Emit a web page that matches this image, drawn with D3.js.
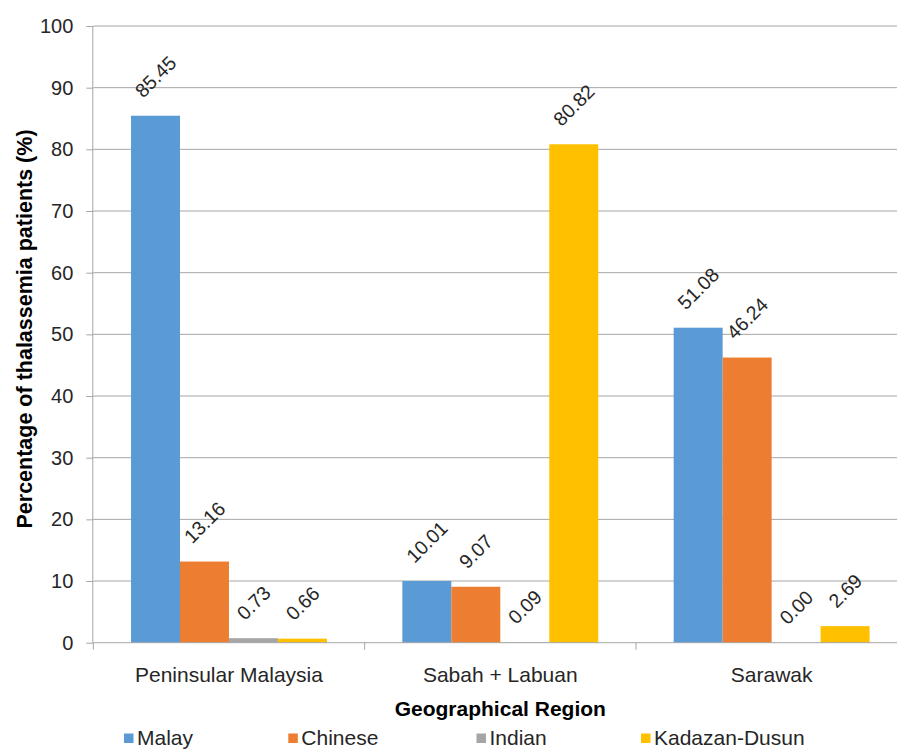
<!DOCTYPE html>
<html>
<head>
<meta charset="utf-8">
<script src="https://cdn.jsdelivr.net/npm/d3@7"></script>
<style>
  html, body { margin: 0; padding: 0; background: #fff; }
  svg { display: block; font-family: "Liberation Sans", Arial, sans-serif; }
</style>
</head>
<body>
<svg id="chart" width="897" height="750"></svg>
<script>
// Thalassemia patients by ethnic group in each geographical region (%)
const regions = ["Peninsular Malaysia", "Sabah + Labuan", "Sarawak"];
const groups = ["Malay", "Chinese", "Indian", "Kadazan-Dusun"];
const malay = [85.45, 10.01, 51.08];
const chinese = [13.16, 9.07, 46.24];
const indian = [0.73, 0.09, 0.00];
const kadazan = [0.66, 80.82, 2.69];
const yTicks = [0, 10, 20, 30, 40, 50, 60, 70, 80, 90, 100];
const colors = ["#5B9BD5", "#ED7D31", "#A5A5A5", "#FFC000"];

const seriesValues = [malay, chinese, indian, kadazan];
const rows = regions.map((r, i) => ({
  region: r,
  values: groups.map((g, k) => ({ group: g, value: seriesValues[k][i] }))
}));

const svg = d3.select("#chart");
const plot = { left: 93.3, right: 907.3, top: 26, bottom: 642.7 };

const y = d3.scaleLinear().domain([0, 100]).range([plot.bottom, plot.top]);
const x0 = d3.scaleBand().domain(regions).range([plot.left, plot.right]).paddingInner(0).paddingOuter(0);
const x1 = d3.scaleBand().domain(groups).range([0, x0.bandwidth()]).paddingInner(0).paddingOuter(0.77);
const color = d3.scaleOrdinal().domain(groups).range(colors);

const gridColor = "#A6A6A6";
const textColor = "#262626";

// horizontal gridlines
svg.append("g")
  .selectAll("line")
  .data(yTicks.filter(t => t > 0))
  .join("line")
  .attr("x1", plot.left).attr("x2", plot.right)
  .attr("y1", d => y(d)).attr("y2", d => y(d))
  .attr("stroke", gridColor).attr("stroke-width", 1);

// y axis
const yAxis = svg.append("g")
  .attr("transform", `translate(${plot.left},0)`)
  .call(d3.axisLeft(y).tickValues(yTicks).tickSize(7).tickPadding(13).tickFormat(d3.format("d")));
yAxis.select(".domain").attr("stroke", gridColor).attr("d", `M-0.5,${plot.bottom}V${plot.top}`);
yAxis.selectAll(".tick line").attr("stroke", gridColor);
yAxis.selectAll(".tick text")
  .attr("fill", textColor).style("font-size", "20px")
  .style("font-family", "'Liberation Sans', Arial, sans-serif");

// bars
const groupsG = svg.append("g")
  .selectAll("g")
  .data(rows)
  .join("g")
  .attr("transform", d => `translate(${x0(d.region)},0)`);

groupsG.selectAll("rect")
  .data(d => d.values)
  .join("rect")
  .attr("x", d => x1(d.group))
  .attr("width", x1.bandwidth())
  .attr("y", d => y(d.value))
  .attr("height", d => y(0) - y(d.value))
  .attr("fill", d => color(d.group));

// rotated value labels above each bar
const fmt = d3.format(".2f");
groupsG.selectAll("text.val")
  .data(d => d.values)
  .join("text")
  .attr("class", "val")
  .attr("fill", textColor)
  .style("font-size", "19.5px")
  .attr("text-anchor", "middle")
  .attr("dominant-baseline", "central")
  .text(d => fmt(d.value))
  .each(function (d) {
    const w = this.getComputedTextLength();
    const h = 14;
    const half = (w + h) / Math.SQRT2 / 2;
    const cx = x1(d.group) + x1.bandwidth() / 2;
    const cy = y(d.value) - 17 - half;
    d3.select(this).attr("transform", `translate(${cx},${cy}) rotate(-45)`);
  });

// x axis baseline with category separator ticks
const xAxisG = svg.append("g");
xAxisG.append("line")
  .attr("x1", plot.left).attr("x2", plot.right)
  .attr("y1", plot.bottom).attr("y2", plot.bottom)
  .attr("stroke", gridColor);
const bounds = regions.map(r => x0(r)).concat([x0(regions[regions.length - 1]) + x0.bandwidth()]);
xAxisG.selectAll("line.sep")
  .data(bounds)
  .join("line")
  .attr("class", "sep")
  .attr("x1", d => d).attr("x2", d => d)
  .attr("y1", plot.bottom).attr("y2", plot.bottom + 7)
  .attr("stroke", gridColor);
xAxisG.selectAll("text")
  .data(regions)
  .join("text")
  .attr("x", d => x0(d) + x0.bandwidth() / 2)
  .attr("y", 682)
  .attr("text-anchor", "middle")
  .attr("fill", textColor)
  .style("font-size", "21px")
  .text(d => d);

// axis titles
svg.append("text")
  .attr("x", (plot.left + plot.right) / 2)
  .attr("y", 716)
  .attr("text-anchor", "middle")
  .attr("fill", "#000")
  .style("font-size", "21px")
  .style("font-weight", "bold")
  .text("Geographical Region");

svg.append("text")
  .attr("transform", `translate(32,329) rotate(-90)`)
  .attr("text-anchor", "middle")
  .attr("fill", "#000")
  .style("font-size", "21.5px")
  .style("font-weight", "bold")
  .text("Percentage of thalassemia patients (%)");

// legend
const legendX = [124, 288.3, 476.5, 641];
const legend = svg.append("g")
  .selectAll("g")
  .data(groups)
  .join("g")
  .attr("transform", (d, i) => `translate(${legendX[i]},733.5)`);
legend.append("rect")
  .attr("width", 9.5).attr("height", 9.5)
  .attr("fill", d => color(d));
legend.append("text")
  .attr("x", 13)
  .attr("y", 11.5)
  .attr("fill", textColor)
  .style("font-size", "21px")
  .text(d => d);
</script>
</body>
</html>
